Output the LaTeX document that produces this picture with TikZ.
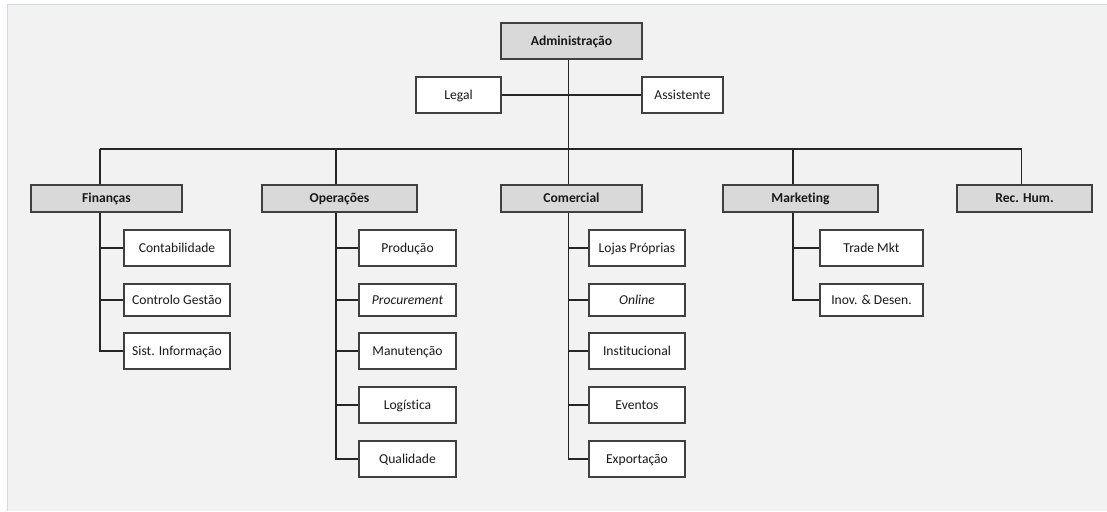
\documentclass[tikz,border=0pt]{standalone}
\usepackage{fontspec}
\setmainfont{Carlito}[Ligatures=CommonOff]
\begin{document}
\begin{tikzpicture}[x=1pt,y=-1pt,
  box/.style={draw=black!75,line width=1.2pt,rectangle,inner sep=0pt,text=black!90,
    text height=10.2pt,text depth=1.8pt,
    font=\fontsize{13.6}{15}\selectfont},
  head/.style={box,fill=black!15,font=\fontsize{13.6}{15}\selectfont\bfseries},
  sub/.style={box,fill=white},
  link/.style={draw=black!85,line width=1.1pt}]
\useasboundingbox (0,0) rectangle (1107,511);
\fill[white] (0,0) rectangle (1107,511);
\fill[black!5] (7,5) rectangle (1107,511);
\draw[color={rgb,255:red,212;green,216;blue,224},line width=1pt] (7,511) -- (7,5) -- (1107,5);
% top
\node[head,minimum width=141pt,minimum height=36pt] (adm) at (571.5,41) {Administração};
\node[sub,minimum width=85pt,minimum height=36pt] (legal) at (458.5,95) {Legal};
\node[sub,minimum width=81pt,minimum height=36pt] (assist) at (682.5,95) {Assistente};
% departments
\node[head,minimum width=151pt,minimum height=27pt] (fin) at (106.5,198.5) {Finanças};
\node[head,minimum width=155pt,minimum height=27pt] (ops) at (339.5,198.5) {Operações};
\node[head,minimum width=141pt,minimum height=27pt] (com) at (571.5,198.5) {Comercial};
\node[head,minimum width=155pt,minimum height=27pt] (mkt) at (800.5,198.5) {Marketing};
\node[head,minimum width=135pt,minimum height=27pt] (rh) at (1024.5,198.5) {Rec. Hum.};
% Finanças children
\node[sub,minimum width=106pt,minimum height=36pt] (f1) at (177,248) {Contabilidade};
\node[sub,minimum width=106pt,minimum height=32pt] (f2) at (177,300) {Controlo Gestão};
\node[sub,minimum width=106pt,minimum height=36pt] (f3) at (177,351) {Sist. Informação};
% Operações children
\node[sub,minimum width=97pt,minimum height=36pt] (o1) at (407.5,248) {Produção};
\node[sub,minimum width=97pt,minimum height=32pt] (o2) at (407.5,300) {\itshape Procurement};
\node[sub,minimum width=97pt,minimum height=36pt] (o3) at (407.5,351) {Manutenção};
\node[sub,minimum width=97pt,minimum height=36pt] (o4) at (407.5,405) {Logística};
\node[sub,minimum width=97pt,minimum height=36pt] (o5) at (407.5,459) {Qualidade};
% Comercial children
\node[sub,minimum width=96pt,minimum height=36pt] (c1) at (637,248) {Lojas Próprias};
\node[sub,minimum width=96pt,minimum height=32pt] (c2) at (637,300) {\itshape Online};
\node[sub,minimum width=96pt,minimum height=36pt] (c3) at (637,351) {Institucional};
\node[sub,minimum width=96pt,minimum height=36pt] (c4) at (637,405) {Eventos};
\node[sub,minimum width=96pt,minimum height=36pt] (c5) at (637,459) {Exportação};
% Marketing children
\node[sub,minimum width=103pt,minimum height=36pt] (m1) at (871.5,248) {Trade Mkt};
\node[sub,minimum width=103pt,minimum height=32pt] (m2) at (871.5,300) {Inov. \& Desen.};
% spine coordinates
\coordinate (bar) at (568.5,149);
\coordinate (admsp) at ([xshift=-3pt]adm.south);
\coordinate (finsp) at ([xshift=-6.5pt]fin.south);
\coordinate (finnp) at ([xshift=-6.5pt]fin.north);
\coordinate (opssp) at ([xshift=-3.5pt]ops.south);
\coordinate (opsnp) at ([xshift=-3.5pt]ops.north);
\coordinate (comsp) at ([xshift=-3pt]com.south);
\coordinate (comnp) at ([xshift=-3pt]com.north);
\coordinate (mktsp) at ([xshift=-7.5pt]mkt.south);
\coordinate (mktnp) at ([xshift=-7.5pt]mkt.north);
\coordinate (rhnp) at ([xshift=-3pt]rh.north);
% connectors
\path[link] (admsp) -- (comnp);
\path[link] (legal.east) -- (assist.west);
\path[link] (finnp |- bar) -- (rhnp |- bar);
\path[link] (finnp) -- (finnp |- bar);
\path[link] (opsnp) -- (opsnp |- bar);
\path[link] (mktnp) -- (mktnp |- bar);
\path[link] (rhnp) -- (rhnp |- bar);
\path[link] (finsp) |- (f3.west);
\path[link] (f1.west) -- (f1.west -| finsp);
\path[link] (f2.west) -- (f2.west -| finsp);
\path[link] (opssp) |- (o5.west);
\foreach \n in {o1,o2,o3,o4} \path[link] (\n.west) -- (\n.west -| opssp);
\path[link] (comsp) |- (c5.west);
\foreach \n in {c1,c2,c3,c4} \path[link] (\n.west) -- (\n.west -| comsp);
\path[link] (mktsp) |- (m2.west);
\path[link] (m1.west) -- (m1.west -| mktsp);
\end{tikzpicture}
\end{document}
